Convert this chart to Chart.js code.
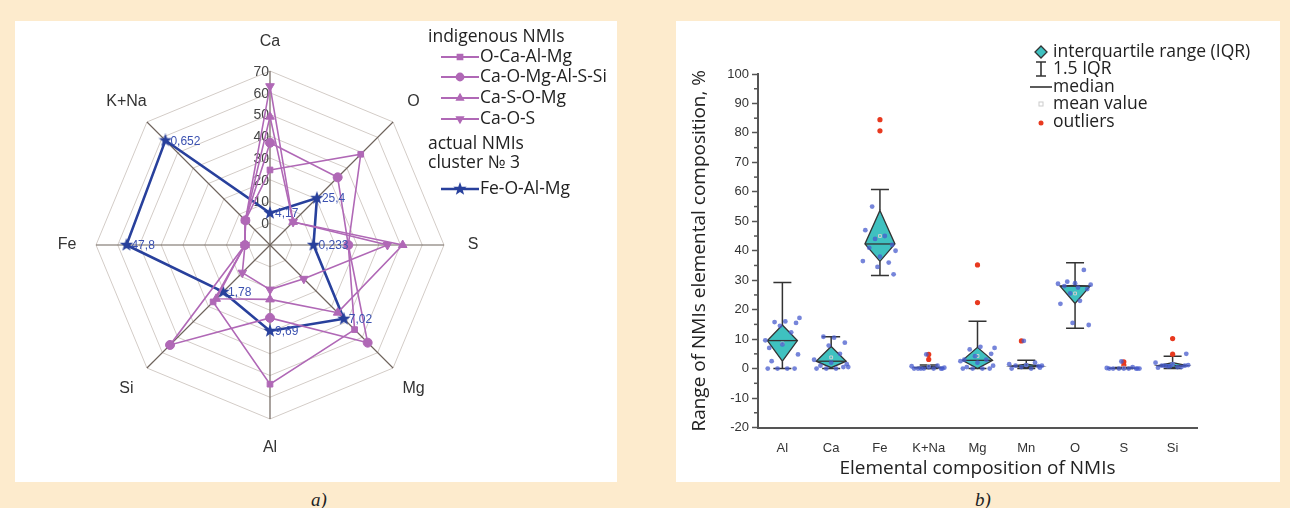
<!DOCTYPE html>
<html>
<head>
<meta charset="utf-8">
<script src="https://cdn.jsdelivr.net/npm/chart.js@4.4.0/dist/chart.umd.min.js"></script>
<style>
  body { margin: 0; width: 1290px; height: 508px; background: #fdebcd; position: relative; overflow: hidden; }
  .panel { position: absolute; background: #fff; }
  #pa { left: 15px; top: 21px; width: 602px; height: 461px; }
  #pb { left: 676px; top: 21px; width: 604px; height: 461px; }
  .cap { position: absolute; top: 489px; font: italic 19px "Liberation Serif", serif; color: #222; }
</style>
</head>
<body>
<div class="panel" id="pa"><canvas id="radar" width="602" height="461"></canvas></div>
<div class="panel" id="pb"><canvas id="box" width="604" height="461"></canvas></div>
<div class="cap" style="left:311px">a)</div>
<div class="cap" style="left:975px">b)</div>
<script>
// ---- panel a: radar data ----
const radarAxes = ['Ca', 'O', 'S', 'Mg', 'Al', 'Si', 'Fe', 'K+Na'];
const radarTicks = [0, 10, 20, 30, 40, 50, 60, 70];
const oCaAlMg = [24.5, 49, 26, 45, 54, 27, 1.5, 6];
const caOMgAlSSi = [37, 34, 26, 53.5, 23.5, 55, 1.5, 6];
const caSOMg = [49, 5, 51, 34, 15, 25, 1.5, 6];
const caOS = [63, 5, 44, 12, 10.5, 8, 1.5, 6];
const feOAlMg = [4.7, 20.5, 10, 38, 29.5, 20.5, 56, 58];
const feOAlMgText = ['4,17', '25,4', '0,233', '7,02', '9,69', '1,78', '47,8', '0,652'];

// ---- panel b: box data ----
const boxCats = ['Al', 'Ca', 'Fe', 'K+Na', 'Mg', 'Mn', 'O', 'S', 'Si'];
const whiskerLow = [0, 0, 31.6, 0, 0, 0, 13.7, 0, 0];
const q1 = [2.5, 0.3, 36.4, 0, 0, 0.3, 22.1, 0, 0.3];
const median = [9.5, 2.5, 42.3, 0.3, 2.8, 0.8, 28, 0.1, 1];
const q3 = [14.8, 7.5, 53.7, 0.8, 7.2, 1.5, 28.2, 0.3, 2];
const whiskerHigh = [29.2, 10.8, 60.8, 1.2, 16.1, 2.8, 35.9, 0.4, 4.2];
const meanValue = [8.5, 3.8, 45, 0.8, 4.3, 1.2, 25.5, 0.3, 1.5];
const pointsAl = [0, 0, 0, 0, 2.5, 4.8, 8.2, 9.6, 12.3, 14.5, 15.5, 15.8, 16, 17.2, 7];
const pointsCa = [0, 0, 0, 0.5, 1, 1.5, 2, 3, 5, 7.8, 8.8, 10.8, 10.5, 0.5];
const pointsFe = [47, 45, 44, 42, 41, 40, 38, 36.5, 36, 34.5, 32, 55];
const pointsKNa = [0, 0, 0, 0, 0, 0.3, 0.5, 0.8, 1, 4.8, 0, 0];
const pointsMg = [0, 0, 0, 0, 0.5, 1, 2, 2.5, 3, 4.2, 5, 6.5, 7.4, 7, 3];
const pointsMn = [0, 0, 0.5, 0.8, 1, 1, 1.2, 1.5, 2, 9.4, 0.3];
const pointsO = [22, 23, 25.5, 27, 28, 28.5, 29, 28.8, 33.5, 15.5, 14.8, 29.5, 27.5];
const pointsS = [0, 0, 0, 0, 0, 0, 0, 0.2, 0.5, 2.4, 0];
const pointsSi = [0.3, 0.5, 0.8, 1, 1, 1.2, 1.5, 2, 0.5, 0.8, 5, 1];
const outliers = [[], [], [84.5, 80.7], [4.8, 3.1], [35.2, 22.4], [9.4], [], [2.3, 1.2], [10.2, 4.9]];
const yTicks = [-20, -10, 0, 10, 20, 30, 40, 50, 60, 70, 80, 90, 100];

const purple = '#b068b6';
const blue = '#28409c';
const teal = '#3fc1c0';
const SANS = '"Liberation Sans", Arial, sans-serif';
const TEXT = '"Open Sans", "Noto Sans", sans-serif';
Chart.defaults.font.family = SANS;

// filled five point star for the actual NMIs series
const starImg = (() => {
    const c = document.createElement('canvas');
    c.width = c.height = 14;
    const g = c.getContext('2d');
    g.fillStyle = blue;
    g.beginPath();
    for (let k = 0; k < 10; k++) {
        const rr = k % 2 ? 2.9 : 7;
        const a = -Math.PI / 2 + k * Math.PI / 5;
        g.lineTo(7 + rr * Math.cos(a), 7 + rr * Math.sin(a));
    }
    g.closePath();
    g.fill();
    return c;
})();

const radarSet = (label, data, style, rotation, radius) => ({
    label, data,
    borderColor: purple, backgroundColor: 'transparent',
    pointBackgroundColor: purple, pointBorderColor: purple,
    borderWidth: 1.6, pointStyle: style, pointRotation: rotation,
    pointRadius: radius, pointBorderWidth: 1, fill: false, tension: 0
});

const radarSets = [
    radarSet('O-Ca-Al-Mg', oCaAlMg, 'rect', 0, 4),
    radarSet('Ca-O-Mg-Al-S-Si', caOMgAlSSi, 'circle', 0, 4.5),
    radarSet('Ca-S-O-Mg', caSOMg, 'triangle', 0, 5),
    radarSet('Ca-O-S', caOS, 'triangle', 180, 5),
    {
        label: 'Fe-O-Al-Mg', data: feOAlMg,
        borderColor: blue, backgroundColor: 'transparent',
        borderWidth: 2.6, pointStyle: starImg, pointRadius: 7, fill: false, tension: 0
    }
];

const radarDecor = {
    id: 'radarDecor',
    beforeDatasetsDraw(chart) {
        const ctx = chart.ctx, r = chart.scales.r;
        ctx.save();
        ctx.font = '14px ' + SANS;
        ctx.fillStyle = '#444';
        ctx.textAlign = 'right';
        ctx.textBaseline = 'middle';
        radarTicks.forEach(v => {
            ctx.fillText(String(v), r.xCenter - 1, r.yCenter - r.getDistanceFromCenterForValue(v) + 1);
        });
        ctx.restore();
    },
    afterDatasetsDraw(chart) {
        const ctx = chart.ctx, r = chart.scales.r;
        ctx.save();
        // axis names
        ctx.font = '16px ' + SANS;
        ctx.fillStyle = '#333';
        ctx.textAlign = 'center';
        ctx.textBaseline = 'middle';
        radarAxes.forEach((name, i) => {
            const p = r.getPointPosition(i, r.drawingArea + 29);
            ctx.fillText(name, p.x, p.y);
        });
        // value labels of the actual NMIs series
        ctx.font = '12px ' + SANS;
        ctx.fillStyle = '#3b51b0';
        ctx.textAlign = 'left';
        chart.getDatasetMeta(4).data.forEach((pt, i) => {
            ctx.fillText(feOAlMgText[i], pt.x + 5, pt.y + 1);
        });
        // legend
        ctx.font = '17.5px ' + TEXT;
        ctx.fillStyle = '#222';
        ctx.fillText('indigenous NMIs', 413, 16);
        ctx.fillText('actual NMIs', 413, 123);
        ctx.fillText('cluster № 3', 413, 142);
        const rows = [36, 56, 77, 98, 168];
        radarSets.forEach((ds, i) => {
            const y = rows[i];
            ctx.strokeStyle = ds.borderColor;
            ctx.lineWidth = i === 4 ? 2.4 : 1.8;
            ctx.beginPath();
            ctx.moveTo(426, y);
            ctx.lineTo(464, y);
            ctx.stroke();
            ctx.fillStyle = ds.borderColor;
            Chart.helpers.drawPoint(ctx, {
                pointStyle: ds.pointStyle, rotation: ds.pointRotation || 0,
                radius: i === 4 ? 6 : 3.5, borderWidth: 1
            }, 445, y);
            ctx.fillStyle = '#222';
            ctx.fillText(ds.label, 465, y);
        });
        ctx.restore();
    }
};

new Chart(document.getElementById('radar'), {
    type: 'radar',
    data: { labels: radarAxes, datasets: radarSets },
    options: {
        responsive: false,
        animation: false,
        layout: { padding: { left: 81, top: 50, right: 173, bottom: 63 } },
        plugins: { legend: { display: false }, tooltip: { enabled: false } },
        scales: {
            r: {
                min: -10, max: 70,
                ticks: { stepSize: 10, display: false },
                grid: { circular: false, color: '#d3ccc7', lineWidth: 1 },
                angleLines: { color: '#6f645d', lineWidth: 1.2 },
                pointLabels: { display: false }
            }
        }
    },
    plugins: [radarDecor]
});

// ---- panel b ----
const allPoints = [pointsAl, pointsCa, pointsFe, pointsKNa, pointsMg, pointsMn, pointsO, pointsS, pointsSi];
const spread = [-0.3, 0.1, -0.1, 0.25, -0.22, 0.32, 0, -0.35, 0.18, -0.05, 0.28, -0.16, 0.06, 0.35, -0.27];
const bluePts = [];
allPoints.forEach((vals, c) => vals.forEach((v, i) => bluePts.push({ x: c + 1 + spread[i % spread.length], y: v })));
const redPts = [];
outliers.forEach((vals, c) => vals.forEach((v, i) => redPts.push({ x: c + 1 + (vals.length > 1 ? 0 : -0.1), y: v })));
const meanPts = meanValue.map((v, c) => ({ x: c + 1, y: v }));

const boxDecor = {
    id: 'boxDecor',
    beforeDatasetsDraw(chart) {
        const { ctx, scales: { x, y } } = chart;
        ctx.save();
        // minor ticks
        ctx.strokeStyle = '#555';
        ctx.lineWidth = 1.5;
        for (let v = -15; v < 100; v += 10) {
            const py = y.getPixelForValue(v);
            ctx.beginPath();
            ctx.moveTo(x.left - 4, py);
            ctx.lineTo(x.left, py);
            ctx.stroke();
        }
        const hw = 15, cap = 9;
        boxCats.forEach((c, i) => {
            const cx = x.getPixelForValue(i + 1);
            const yLo = y.getPixelForValue(whiskerLow[i]);
            const yQ1 = y.getPixelForValue(q1[i]);
            const yMed = y.getPixelForValue(median[i]);
            const yQ3 = y.getPixelForValue(q3[i]);
            const yHi = y.getPixelForValue(whiskerHigh[i]);
            ctx.strokeStyle = '#333';
            ctx.lineWidth = 1.5;
            ctx.beginPath();
            ctx.moveTo(cx, yQ3); ctx.lineTo(cx, yHi);
            ctx.moveTo(cx - cap, yHi); ctx.lineTo(cx + cap, yHi);
            ctx.moveTo(cx, yQ1); ctx.lineTo(cx, yLo);
            ctx.moveTo(cx - cap, yLo); ctx.lineTo(cx + cap, yLo);
            ctx.stroke();
            ctx.fillStyle = teal;
            ctx.lineWidth = 1.3;
            ctx.beginPath();
            ctx.moveTo(cx, yQ3);
            ctx.lineTo(cx + hw, yMed);
            ctx.lineTo(cx, yQ1);
            ctx.lineTo(cx - hw, yMed);
            ctx.closePath();
            ctx.fill();
            ctx.stroke();
            ctx.beginPath();
            ctx.moveTo(cx - hw, yMed);
            ctx.lineTo(cx + hw, yMed);
            ctx.stroke();
        });
        ctx.restore();
    },
    afterDraw(chart) {
        const ctx = chart.ctx;
        ctx.save();
        ctx.font = '17.5px ' + TEXT;
        ctx.fillStyle = '#222';
        ctx.textBaseline = 'middle';
        const lx = 365, tx = 377;
        const rows = [31, 48, 66, 83, 101];
        ['interquartile range (IQR)', '1.5 IQR', 'median', 'mean value', 'outliers'].forEach((t, i) => ctx.fillText(t, tx, rows[i]));
        // diamond
        ctx.fillStyle = teal; ctx.strokeStyle = '#333'; ctx.lineWidth = 1.3;
        ctx.beginPath();
        ctx.moveTo(lx, rows[0] - 6); ctx.lineTo(lx + 6, rows[0]); ctx.lineTo(lx, rows[0] + 6); ctx.lineTo(lx - 6, rows[0]);
        ctx.closePath(); ctx.fill(); ctx.stroke();
        // whisker
        ctx.lineWidth = 1.6;
        ctx.beginPath();
        ctx.moveTo(lx - 5, rows[1] - 7); ctx.lineTo(lx + 5, rows[1] - 7);
        ctx.moveTo(lx, rows[1] - 7); ctx.lineTo(lx, rows[1] + 7);
        ctx.moveTo(lx - 5, rows[1] + 7); ctx.lineTo(lx + 5, rows[1] + 7);
        ctx.stroke();
        // median
        ctx.beginPath(); ctx.moveTo(lx - 11, rows[2]); ctx.lineTo(lx + 11, rows[2]); ctx.stroke();
        // mean
        ctx.strokeStyle = '#ccc'; ctx.lineWidth = 1;
        ctx.strokeRect(lx - 2, rows[3] - 2, 4, 4);
        // outliers
        ctx.fillStyle = '#e8391f';
        ctx.beginPath(); ctx.arc(lx, rows[4] + 1, 2.5, 0, Math.PI * 2); ctx.fill();
        ctx.restore();
    }
};

new Chart(document.getElementById('box'), {
    type: 'scatter',
    data: {
        datasets: [
            { label: 'points', data: bluePts, pointRadius: 2.4, pointBorderWidth: 0, backgroundColor: 'rgba(72,92,205,0.75)' },
            { label: 'mean value', data: meanPts, pointStyle: 'rect', pointRadius: 2, pointBorderWidth: 1, borderColor: '#cfcfcf', backgroundColor: 'transparent' },
            { label: 'outliers', data: redPts, pointRadius: 2.6, pointBorderWidth: 0, backgroundColor: '#e8391f' }
        ]
    },
    options: {
        responsive: false,
        animation: false,
        layout: { padding: { left: 10, top: 53, right: 83, bottom: 0 } },
        plugins: { legend: { display: false }, tooltip: { enabled: false } },
        scales: {
            x: {
                type: 'linear', min: 0.5, max: 9.5,
                afterBuildTicks: s => { s.ticks = boxCats.map((c, i) => ({ value: i + 1 })); },
                afterFit: s => { s.height = 54.5; },
                ticks: { callback: v => boxCats[v - 1], color: '#333', font: { size: 13 }, padding: 5, maxRotation: 0 },
                grid: { display: false },
                border: { color: '#555', width: 2 },
                title: { display: true, text: 'Elemental composition of NMIs', color: '#222', font: { size: 19, family: TEXT }, padding: { top: 0, bottom: 2 } }
            },
            y: {
                min: -20, max: 100,
                afterBuildTicks: s => { s.ticks = yTicks.map(v => ({ value: v })); },
                afterFit: s => { s.width = 72; },
                ticks: { color: '#333', font: { size: 13 }, padding: 3 },
                grid: { drawOnChartArea: false, tickLength: 6, tickColor: '#555', tickWidth: 1.5 },
                border: { color: '#555', width: 2 },
                title: { display: true, text: 'Range of NMIs elemental composition, %', color: '#222', font: { size: 19, family: TEXT }, padding: { top: 2, bottom: 0 } }
            }
        }
    },
    plugins: [boxDecor]
});
</script>
</body>
</html>
